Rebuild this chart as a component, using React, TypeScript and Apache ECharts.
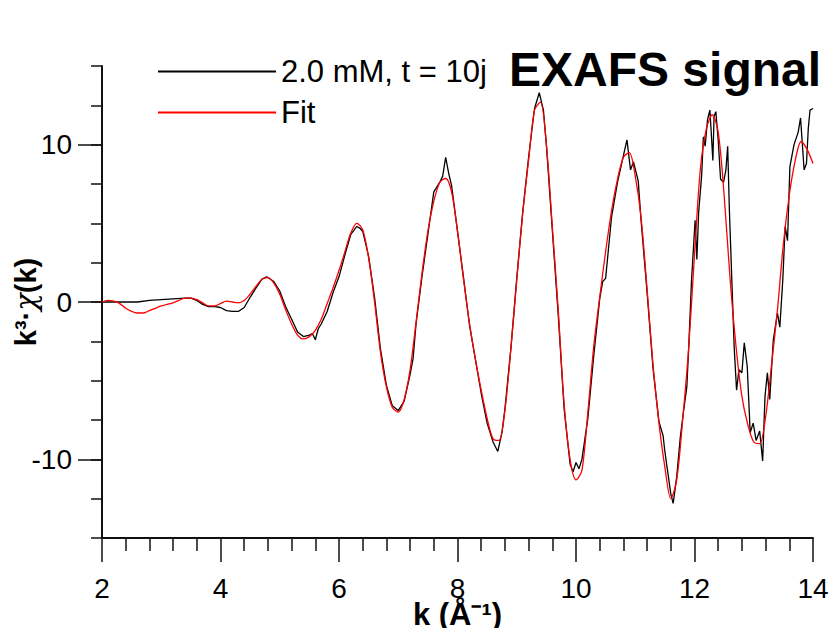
import React, { useEffect, useRef } from "react";
import * as echarts from "echarts";

const dataK = [
  2.0, 2.2, 2.4, 2.6, 2.8, 3.0, 3.2, 3.4, 3.5, 3.6, 3.7, 3.8, 3.9, 4.0, 4.1, 4.2, 4.3, 4.4, 4.5, 4.6, 4.7, 4.78, 4.9,
  5.0, 5.1, 5.2, 5.3, 5.4, 5.5, 5.55, 5.6, 5.65, 5.7, 5.8, 5.9, 6.0, 6.1, 6.2, 6.3, 6.35, 6.4, 6.5, 6.6, 6.7, 6.8,
  6.9, 7.0, 7.1, 7.2, 7.25, 7.3, 7.4, 7.5, 7.6, 7.7, 7.75, 7.8, 7.85, 7.9, 8.0, 8.1, 8.2, 8.3, 8.4, 8.5, 8.6, 8.68,
  8.75, 8.8, 8.9, 9.0, 9.1, 9.2, 9.3, 9.38, 9.45, 9.5, 9.6, 9.7, 9.8, 9.9, 9.95, 10.0, 10.05, 10.1, 10.2, 10.3, 10.4,
  10.45, 10.5, 10.6, 10.7, 10.8, 10.86, 10.92, 10.97, 11.05, 11.1, 11.2, 11.3, 11.4, 11.47, 11.5, 11.6, 11.64, 11.7,
  11.76, 11.81, 11.87, 11.9, 11.95, 11.99, 12.01, 12.04, 12.07, 12.12, 12.15, 12.18, 12.22, 12.26, 12.31, 12.33,
  12.36, 12.4, 12.44, 12.49, 12.53, 12.56, 12.59, 12.63, 12.67, 12.71, 12.75, 12.8, 12.84, 12.89, 12.94, 12.99,
  13.04, 13.1, 13.15, 13.19, 13.23, 13.27, 13.33, 13.4, 13.44, 13.49, 13.53, 13.57, 13.61, 13.68, 13.75, 13.79,
  13.83, 13.85, 13.89, 13.92, 13.95, 14.0,
];
const dataChi = [
  0, 0, 0, 0, 0.1, 0.15, 0.2, 0.25, 0.25, 0.1, -0.15, -0.3, -0.3, -0.35, -0.55, -0.6, -0.6, -0.35, 0.3, 0.9, 1.45, 1.6, 1.3,
  0.7, -0.3, -1.1, -1.9, -2.2, -2.1, -2.0, -2.4, -1.7, -1.4, -0.6, 0.6, 1.6, 3.0, 4.3, 4.8, 4.7, 4.5, 2.9, 0.3, -3.0, -5.3,
  -6.6, -6.9, -6.3, -4.6, -3.6, -1.4, 1.6, 4.3, 7.0, 7.6, 8.0, 9.2, 8.2, 7.4, 4.5, 1.6, -1.4, -3.6, -5.8, -7.7, -8.9, -9.5,
  -8.3, -6.8, -3.0, 1.5, 5.7, 9.2, 12.3, 13.3, 12.2, 10.0, 4.6, -0.8, -6.8, -10.3, -10.8, -10.2, -10.6, -10.0, -7.4, -3.4, 0.2,
  1.3, 1.5, 5.4, 7.6, 9.3, 10.3, 8.4, 8.9, 7.7, 5.1, 0.6, -4.2, -7.6, -8.5, -9.5, -12.2, -12.8, -11.1,
  -8.6, -7.1, -5.4, -3.1, 1.4, 3.9, 5.2, 2.7, 5.7, 8.0, 10.5, 9.9, 11.6, 12.2, 9.0, 11.8,
  12.1, 10.3, 7.8, 7.6, 8.4, 9.9, 5.7, 1.4, -2.9, -5.6, -4.3, -4.5, -2.6, -4.1, -8.3, -7.7,
  -8.8, -8.2, -10.1, -6.0, -4.5, -6.2, -2.4, -0.7, -1.6, 1.4, 4.8, 3.9, 8.6, 10.0, 10.8, 11.7,
  9.5, 8.4, 8.8, 11.0, 12.2, 12.3,
];

const fitK = [
  2.0, 2.1, 2.2, 2.3, 2.4, 2.5, 2.6, 2.7, 2.8, 2.9, 3.0, 3.1, 3.2, 3.3, 3.4, 3.5, 3.6, 3.7, 3.8, 3.9,
  4.0, 4.1, 4.2, 4.3, 4.4, 4.5, 4.6, 4.7, 4.8, 4.9, 5.0, 5.1, 5.2, 5.3, 5.4, 5.5, 5.6, 5.7, 5.8, 5.9,
  6.0, 6.1, 6.2, 6.3, 6.4, 6.5, 6.6, 6.7, 6.8, 6.9, 7.0, 7.1, 7.2, 7.3, 7.4, 7.5, 7.6, 7.7, 7.8, 7.9,
  8.0, 8.1, 8.2, 8.3, 8.4, 8.5, 8.6, 8.7, 8.8, 8.9, 9.0, 9.1, 9.2, 9.3, 9.4, 9.5, 9.6, 9.7, 9.8, 9.9,
  10.0, 10.1, 10.2, 10.3, 10.4, 10.5, 10.6, 10.7, 10.8, 10.9, 11.0, 11.1, 11.2, 11.3, 11.4, 11.5, 11.6, 11.7, 11.8, 11.9,
  12.0, 12.1, 12.2, 12.3, 12.4, 12.5, 12.6, 12.7, 12.8, 12.9, 13.0, 13.1, 13.2, 13.3, 13.4, 13.5, 13.6, 13.7, 13.8, 13.9,
  14.0,
];
const fitChi = [
  0, 0.1, 0.05, -0.1, -0.4, -0.6, -0.7, -0.7, -0.55, -0.4, -0.25, -0.15, -0.05, 0.1, 0.25, 0.25, 0.15, -0.05, -0.25, -0.25,
  -0.1, 0.05, 0.0, -0.05, 0.1, 0.5, 1.0, 1.45, 1.55, 1.2, 0.5, -0.5, -1.4, -2.1, -2.35, -2.2, -1.8, -1.1, -0.1, 0.9,
  2.0, 3.2, 4.4, 5.0, 4.6, 2.8, 0.0, -3.2, -5.4, -6.7, -7.0, -6.2, -4.3, -1.3, 1.8, 4.5, 6.4, 7.6, 7.85, 7.0,
  4.5, 1.5, -1.3, -3.6, -5.6, -7.4, -8.7, -8.8, -6.9, -3.0, 1.4, 5.6, 9.0, 12.2, 12.7, 10.0, 4.8, -0.5, -6.5, -10.0,
  -11.3, -10.7, -7.0, -2.8, 0.3, 3.2, 5.8, 7.8, 9.2, 9.5, 8.0, 5.3, 0.8, -4.0, -7.7, -10.5, -12.5, -11.3, -7.5, -3.0,
  3.0, 8.5, 11.0, 11.9, 10.8, 6.8, 1.5, -2.8, -6.0, -7.8, -8.9, -9.0, -7.3, -4.0, -0.5, 3.7, 6.8, 9.0, 10.2, 9.7,
  8.8,
];

const seriesNames = ["2.0 mM, t = 10j", "Fit"];
const majorYTicks = [-10, 0, 10];
const FONT = "'Liberation Sans', Arial, sans-serif";

export default function App() {
  const ref = useRef<HTMLDivElement>(null);
  useEffect(() => {
    if (!ref.current) return;
    const chart = echarts.init(ref.current, null, { renderer: "svg" });
    const dataPts = dataK.map((k, i) => [k, dataChi[i]]);
    const fitPts = fitK.map((k, i) => [k, fitChi[i]]);
    chart.setOption({
      animation: false,
      backgroundColor: "#ffffff",
      textStyle: { fontFamily: FONT },
      title: {
        text: "EXAFS signal",
        left: 509,
        top: 45,
        padding: 0,
        textStyle: { fontFamily: FONT, fontSize: 48, fontWeight: "bold", color: "#000", lineHeight: 48 },
      },
      legend: {
        orient: "vertical",
        left: 157,
        top: 56,
        padding: 0,
        itemWidth: 118,
        itemHeight: 31,
        itemGap: 10,
        data: seriesNames,
        itemStyle: { opacity: 0, borderWidth: 0 },
        textStyle: { fontFamily: FONT, fontSize: 31, color: "#000", lineHeight: 31 },
      },
      grid: { left: 102, right: 20, top: 66, bottom: 90, containLabel: false, outerBoundsMode: "none" },
      xAxis: {
        type: "value",
        min: 2,
        max: 14,
        interval: 2,
        name: "k (Å\u207B\u00B9)",
        nameLocation: "middle",
        nameGap: 62,
        nameMoveOverlap: false,
        nameTextStyle: { fontFamily: FONT, fontSize: 31, fontWeight: "bold", color: "#000", lineHeight: 28 },
        axisLine: { show: true, onZero: false, lineStyle: { color: "#111", width: 2 } },
        axisTick: { show: true, length: 24, lineStyle: { color: "#111", width: 1.5 } },
        minorTick: { show: true, splitNumber: 5, length: 13, lineStyle: { color: "#111", width: 1.5 } },
        axisLabel: { fontFamily: FONT, fontSize: 28, color: "#000", margin: 38, lineHeight: 24 },
        splitLine: { show: false },
      },
      yAxis: [
        {
          type: "value",
          min: -15,
          max: 15,
          interval: 2.5,
          name: "{b|k³·}{c|χ}{b|(k)}",
          nameLocation: "middle",
          nameGap: 62,
          nameRotate: 90,
          nameMoveOverlap: false,
          nameTextStyle: {
            rich: {
              b: { fontFamily: FONT, fontSize: 29, fontWeight: "bold", color: "#000" },
              c: { fontFamily: "'DejaVu Serif', serif", fontStyle: "italic", fontSize: 29, color: "#000" },
            },
          },
          axisLine: { show: true, onZero: false, lineStyle: { color: "#111", width: 2 } },
          axisTick: { show: true, length: 11, lineStyle: { color: "#111", width: 1.5 } },
          axisLabel: {
            fontFamily: FONT,
            fontSize: 28,
            color: "#000",
            margin: 30,
            formatter: (v: number) => (majorYTicks.includes(v) ? String(v) : ""),
          },
          splitLine: { show: false },
        },
        {
          type: "value",
          min: -15,
          max: 15,
          interval: 5,
          position: "left",
          offset: 0,
          axisLine: { show: false },
          axisTick: { show: true, length: 24, customValues: majorYTicks, lineStyle: { color: "#111", width: 1.5 } },
          axisLabel: { show: false },
          splitLine: { show: false },
        },
      ],
      series: [
        {
          name: seriesNames[0],
          type: "line",
          data: dataPts,
          symbol: "none",
          lineStyle: { color: "#000", width: 1.3 },
          itemStyle: { color: "#000" },
          z: 2,
        },
        {
          name: seriesNames[1],
          type: "line",
          data: fitPts,
          symbol: "none",
          smooth: 0.3,
          lineStyle: { color: "#ff0000", width: 1.3 },
          itemStyle: { color: "#ff0000" },
          z: 3,
        },
      ],
    });
    return () => chart.dispose();
  }, []);
  return <div ref={ref} style={{ width: 833, height: 628, position: "absolute", left: 0, top: 0 }} />;
}
